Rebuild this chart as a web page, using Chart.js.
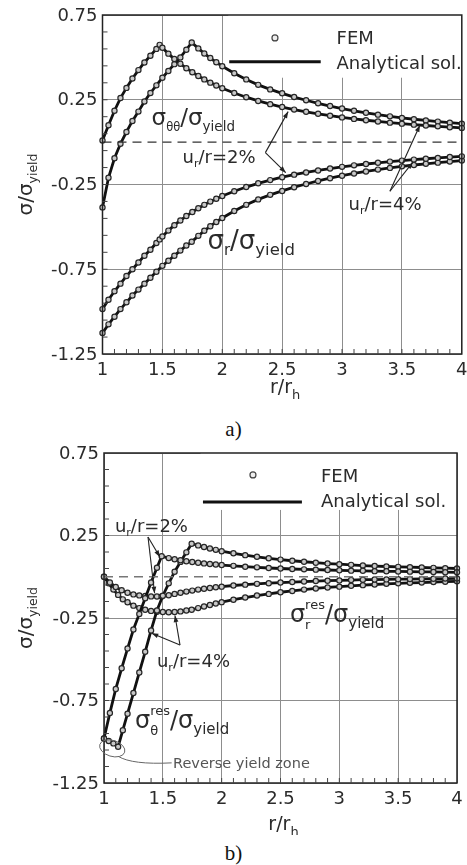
<!DOCTYPE html>
<html>
<head>
<meta charset="utf-8">
<script src="https://cdn.jsdelivr.net/npm/chart.js@4.4.1/dist/chart.umd.min.js"></script>
<style>
  html, body { margin: 0; padding: 0; background: #fff; width: 467px; height: 865px; overflow: hidden; }
  canvas { position: absolute; left: 0; }
  #chartA { top: 0; }
  #chartB { top: 440px; }
  .cap { position: absolute; left: 0; width: 467px; text-align: center;
         font-family: "Liberation Serif", "DejaVu Serif", serif; font-size: 21px; color: #111; }
</style>
</head>
<body>
<canvas id="chartA" width="467" height="400"></canvas>
<div class="cap" style="top:417px">a)</div>
<canvas id="chartB" width="467" height="395"></canvas>
<div class="cap" style="top:841px">b)</div>
<script>
// axis ticks
const xTicks = [1, 1.5, 2, 2.5, 3, 3.5, 4];
const xTickLabels = ['1', '1.5', '2', '2.5', '3', '3.5', '4'];
const yTicks = [-1.25, -0.75, -0.25, 0.25, 0.75];
const yTickLabels = ['-1.25', '-0.75', '-0.25', '0.25', '0.75'];

// dashed zero line
const zeroX = [1, 4];
const zeroY = [0, 0];

// a) stresses under load, u_r/r = 2%
const rLoad2 = [1, 1.05, 1.1, 1.15, 1.2, 1.25, 1.3, 1.35, 1.4, 1.45, 1.477, 1.5, 1.55, 1.6, 1.65, 1.7, 1.75, 1.8, 1.85, 1.9, 1.95, 2,
  2.1, 2.2, 2.3, 2.4, 2.5, 2.6, 2.7, 2.8, 2.9, 3, 3.1, 3.2, 3.3, 3.4, 3.5, 3.6, 3.7, 3.8, 3.9, 4];
const hoopLoad2 = [0.01, 0.1, 0.185, 0.26, 0.32, 0.375, 0.425, 0.47, 0.51, 0.55, 0.574, 0.557, 0.522, 0.49, 0.462, 0.436, 0.412, 0.39, 0.37, 0.351, 0.334, 0.318,
  0.29, 0.265, 0.243, 0.224, 0.207, 0.192, 0.179, 0.167, 0.156, 0.146, 0.137, 0.129, 0.122, 0.115, 0.109, 0.103, 0.098, 0.093, 0.088, 0.084];
const radLoad2 = [-0.985, -0.93, -0.88, -0.835, -0.79, -0.75, -0.71, -0.67, -0.635, -0.595, -0.574, -0.557, -0.522, -0.49, -0.462, -0.436, -0.412, -0.39, -0.37, -0.351, -0.334, -0.318,
  -0.29, -0.265, -0.243, -0.224, -0.207, -0.192, -0.179, -0.167, -0.156, -0.146, -0.137, -0.129, -0.122, -0.115, -0.109, -0.103, -0.098, -0.093, -0.088, -0.084];

// a) stresses under load, u_r/r = 4%
const rLoad4 = [1, 1.05, 1.1, 1.15, 1.2, 1.25, 1.3, 1.35, 1.4, 1.45, 1.5, 1.55, 1.6, 1.65, 1.7, 1.745, 1.8, 1.85, 1.9, 1.95, 2,
  2.1, 2.2, 2.3, 2.4, 2.5, 2.6, 2.7, 2.8, 2.9, 3, 3.1, 3.2, 3.3, 3.4, 3.5, 3.6, 3.7, 3.8, 3.9, 4];
const hoopLoad4 = [-0.385, -0.21, -0.095, -0.01, 0.06, 0.125, 0.18, 0.24, 0.29, 0.335, 0.38, 0.42, 0.46, 0.5, 0.545, 0.588, 0.553, 0.523, 0.496, 0.471, 0.448,
  0.406, 0.37, 0.338, 0.311, 0.288, 0.266, 0.247, 0.229, 0.213, 0.198, 0.185, 0.173, 0.162, 0.152, 0.143, 0.135, 0.128, 0.121, 0.115, 0.109];
const radLoad4 = [-1.126, -1.075, -1.03, -0.985, -0.945, -0.905, -0.87, -0.835, -0.8, -0.765, -0.73, -0.7, -0.67, -0.64, -0.61, -0.588, -0.553, -0.523, -0.496, -0.471, -0.448,
  -0.406, -0.37, -0.338, -0.311, -0.288, -0.266, -0.247, -0.229, -0.213, -0.198, -0.185, -0.173, -0.162, -0.152, -0.143, -0.135, -0.128, -0.121, -0.115, -0.109];

// b) residual stresses, u_r/r = 2%
const rRes2 = [1, 1.05, 1.1, 1.15, 1.2, 1.25, 1.3, 1.35, 1.4, 1.45, 1.49, 1.55, 1.6, 1.65, 1.7, 1.75, 1.8, 1.85, 1.9, 1.95, 2,
  2.1, 2.2, 2.3, 2.4, 2.5, 2.6, 2.7, 2.8, 2.9, 3, 3.1, 3.2, 3.3, 3.4, 3.5, 3.6, 3.7, 3.8, 3.9, 4];
const hoopRes2 = [-0.98, -0.825, -0.68, -0.555, -0.435, -0.32, -0.225, -0.13, -0.035, 0.055, 0.125, 0.113, 0.106, 0.1, 0.094, 0.089, 0.085, 0.081, 0.077, 0.074, 0.071,
  0.066, 0.061, 0.057, 0.053, 0.05, 0.047, 0.045, 0.043, 0.041, 0.039, 0.037, 0.036, 0.034, 0.033, 0.032, 0.031, 0.03, 0.029, 0.028, 0.027];
const radRes2 = [0, -0.035, -0.062, -0.082, -0.097, -0.107, -0.113, -0.117, -0.119, -0.12, -0.12, -0.112, -0.104, -0.097, -0.09, -0.084, -0.078, -0.073, -0.068, -0.064, -0.06,
  -0.053, -0.048, -0.043, -0.039, -0.035, -0.032, -0.029, -0.026, -0.024, -0.022, -0.02, -0.018, -0.017, -0.016, -0.015, -0.014, -0.013, -0.012, -0.011, -0.01];

// b) residual stresses, u_r/r = 4%
const rRes4 = [1, 1.04, 1.08, 1.12, 1.16, 1.2, 1.25, 1.3, 1.35, 1.4, 1.45, 1.5, 1.55, 1.6, 1.65, 1.7, 1.745, 1.8, 1.85, 1.9, 1.95, 2,
  2.1, 2.2, 2.3, 2.4, 2.5, 2.6, 2.7, 2.8, 2.9, 3, 3.1, 3.2, 3.3, 3.4, 3.5, 3.6, 3.7, 3.8, 3.9, 4];
const hoopRes4 = [-0.98, -0.995, -1.01, -1.03, -0.93, -0.83, -0.705, -0.58, -0.455, -0.325, -0.205, -0.115, -0.04, 0.03, 0.09, 0.148, 0.2, 0.19, 0.18, 0.171, 0.163, 0.155,
  0.142, 0.131, 0.121, 0.112, 0.104, 0.097, 0.091, 0.085, 0.08, 0.076, 0.072, 0.068, 0.065, 0.062, 0.06, 0.058, 0.056, 0.054, 0.052, 0.05];
const radRes4 = [0, -0.04, -0.078, -0.11, -0.137, -0.155, -0.175, -0.19, -0.2, -0.207, -0.212, -0.214, -0.215, -0.214, -0.21, -0.205, -0.2, -0.19, -0.18, -0.171, -0.162, -0.154,
  -0.139, -0.126, -0.114, -0.104, -0.094, -0.086, -0.078, -0.071, -0.065, -0.06, -0.055, -0.051, -0.047, -0.043, -0.04, -0.037, -0.035, -0.032, -0.03, -0.028];

const FONT = '"DejaVu Sans", Arial, sans-serif';
const INK = '#2b2b2b';

function pts(rs, vs) {
  return rs.map((r, i) => ({ x: r, y: vs[i] }));
}

// FEM circles sitting on the analytical line
function femLine(rs, vs) {
  return {
    data: pts(rs, vs),
    showLine: true,
    borderColor: '#111',
    borderWidth: 2.8,
    pointRadius: 2.6,
    pointBorderWidth: 1.2,
    pointBorderColor: '#262626',
    pointBackgroundColor: '#c8c8c8',
    clip: 4
  };
}

function zeroLine(color) {
  return {
    data: pts(zeroX, zeroY),
    showLine: true,
    borderColor: color,
    borderWidth: 1.3,
    borderDash: [9, 6],
    pointRadius: 0
  };
}

// text made of pieces with their own size and vertical shift
function rich(ctx, x, y, parts, align) {
  const widths = parts.map(p => { ctx.font = p.s + 'px ' + FONT; return ctx.measureText(p.t).width; });
  let w = 0;
  parts.forEach((p, i) => { if (p.adv !== false) w += widths[i]; });
  let cx = align === 'center' ? x - w / 2 : x;
  parts.forEach((p, i) => {
    ctx.font = p.s + 'px ' + FONT;
    ctx.fillText(p.t, cx, y + (p.dy || 0));
    if (p.adv !== false) cx += widths[i];
  });
}

function arrow(ctx, x1, y1, x2, y2) {
  ctx.beginPath();
  ctx.moveTo(x1, y1);
  ctx.lineTo(x2, y2);
  ctx.stroke();
  const a = Math.atan2(y2 - y1, x2 - x1);
  ctx.beginPath();
  ctx.moveTo(x2, y2);
  ctx.lineTo(x2 - 7 * Math.cos(a - 0.35), y2 - 7 * Math.sin(a - 0.35));
  ctx.lineTo(x2 - 7 * Math.cos(a + 0.35), y2 - 7 * Math.sin(a + 0.35));
  ctx.closePath();
  ctx.fill();
}

const sigmaYield = (s, ss) => [{ t: 'σ', s: s }, { t: 'yield', s: ss, dy: 6 }];
const urText = pct => [{ t: 'u', s: 18 }, { t: 'r', s: 11, dy: 4 }, { t: '/r=' + pct, s: 18 }];

function figPlugin(spec) {
  return {
    id: 'fig',
    beforeDatasetsDraw(chart) {
      const { ctx, scales: { x, y } } = chart;
      const b = spec.legendBox;
      ctx.save();
      ctx.fillStyle = '#fff';
      const x1 = x.getPixelForValue(b[0]), x2 = x.getPixelForValue(b[1]);
      const y1 = y.getPixelForValue(b[2]), y2 = y.getPixelForValue(b[3]);
      ctx.fillRect(x1, y1, x2 - x1, y2 - y1);
      ctx.restore();
    },
    afterDraw(chart) {
      const { ctx, chartArea: ca, scales: { x, y } } = chart;
      ctx.save();
      // frame
      ctx.strokeStyle = '#222';
      ctx.lineWidth = 1.5;
      ctx.strokeRect(ca.left, ca.top, ca.right - ca.left, ca.bottom - ca.top);

      // minor ticks
      ctx.lineWidth = 1;
      ctx.strokeStyle = '#444';
      for (let v = 1.1; v < 4; v += 0.1) {
        const px = x.getPixelForValue(v);
        ctx.beginPath(); ctx.moveTo(px, ca.bottom); ctx.lineTo(px, ca.bottom - 5); ctx.stroke();
      }
      for (let v = -1.15; v < 0.75; v += 0.1) {
        const py = y.getPixelForValue(v);
        ctx.beginPath(); ctx.moveTo(ca.left, py); ctx.lineTo(ca.left + 5, py); ctx.stroke();
      }

      // tick labels
      ctx.fillStyle = INK;
      ctx.font = '18px ' + FONT;
      ctx.textBaseline = 'middle';
      ctx.textAlign = 'right';
      yTicks.forEach((v, i) => ctx.fillText(yTickLabels[i], ca.left - 5, y.getPixelForValue(v) + 1));
      ctx.textAlign = 'center';
      xTicks.forEach((v, i) => ctx.fillText(xTickLabels[i], x.getPixelForValue(v), ca.bottom + 16));

      // axis titles
      ctx.textBaseline = 'alphabetic';
      ctx.textAlign = 'left';
      rich(ctx, (ca.left + ca.right) / 2 + 3, ca.bottom + spec.xTitleGap,
        [{ t: 'r/r', s: 19 }, { t: 'h', s: 13, dy: 6 }], 'center');
      ctx.save();
      ctx.translate(32, (ca.top + ca.bottom) / 2);
      ctx.rotate(-Math.PI / 2);
      rich(ctx, 0, 0, [{ t: 'σ/σ', s: 20 }, { t: 'yield', s: 12.5, dy: 5 }], 'center');
      ctx.restore();

      // curve labels
      spec.texts.forEach(tx => {
        ctx.fillStyle = tx.color || INK;
        rich(ctx, x.getPixelForValue(tx.x), y.getPixelForValue(tx.y), tx.parts, 'left');
      });

      // pointers
      ctx.strokeStyle = '#222';
      ctx.fillStyle = '#222';
      ctx.lineWidth = 1.1;
      spec.arrows.forEach(a => {
        arrow(ctx, x.getPixelForValue(a[0]), y.getPixelForValue(a[1]), x.getPixelForValue(a[2]), y.getPixelForValue(a[3]));
      });
      if (spec.extra) spec.extra(ctx, x, y);

      // legend
      const lg = spec.legend;
      ctx.strokeStyle = '#444';
      ctx.fillStyle = '#eee';
      ctx.lineWidth = 1.2;
      ctx.beginPath();
      ctx.arc(x.getPixelForValue(lg.dot[0]), y.getPixelForValue(lg.dot[1]), 3, 0, Math.PI * 2);
      ctx.fill(); ctx.stroke();
      ctx.strokeStyle = '#111';
      ctx.lineWidth = 3;
      ctx.beginPath();
      ctx.moveTo(x.getPixelForValue(lg.line[0]), y.getPixelForValue(lg.line[2]));
      ctx.lineTo(x.getPixelForValue(lg.line[1]), y.getPixelForValue(lg.line[2]));
      ctx.stroke();
      ctx.fillStyle = INK;
      ctx.font = '18px ' + FONT;
      ctx.fillText('FEM', x.getPixelForValue(lg.textX), y.getPixelForValue(lg.femY));
      ctx.fillText('Analytical sol.', x.getPixelForValue(lg.textX), y.getPixelForValue(lg.anaY));
      ctx.restore();
    }
  };
}

function makeChart(id, datasets, spec) {
  const grid = { color: '#8d8d8d', lineWidth: 1, drawTicks: false };
  return new Chart(document.getElementById(id), {
    type: 'scatter',
    data: { datasets: datasets },
    options: {
      responsive: false,
      animation: false,
      devicePixelRatio: 1,
      layout: { padding: { left: 0, right: spec.padRight, top: spec.padTop, bottom: 0 } },
      plugins: { legend: { display: false }, tooltip: { enabled: false } },
      scales: {
        x: {
          type: 'linear', min: 1, max: 4,
          ticks: { stepSize: 0.5, display: false },
          grid: grid, border: { display: false },
          afterFit(s) { s.height = spec.xAxisH; }
        },
        y: {
          type: 'linear', min: -1.25, max: 0.75,
          ticks: { stepSize: 0.5, display: false },
          grid: grid, border: { display: false },
          afterFit(s) { s.width = spec.yAxisW; }
        }
      }
    },
    plugins: [figPlugin(spec)]
  });
}

// a) loaded state
makeChart('chartA', [
  zeroLine('#333'),
  femLine(rLoad2, hoopLoad2),
  femLine(rLoad4, hoopLoad4),
  femLine(rLoad2, radLoad2),
  femLine(rLoad4, radLoad4)
], {
  padTop: 15, padRight: 3, yAxisW: 102.5, xAxisH: 46, xTitleGap: 39,
  legendBox: [2.05, 4, 0.75, 0.38],
  legend: { dot: [2.44, 0.615], line: [2.058, 2.822, 0.474], textX: 2.954, femY: 0.579, anaY: 0.432 },
  texts: [
    { x: 1.41, y: 0.103, parts: [{ t: 'σ', s: 23 }, { t: 'θθ', s: 11.5, dy: 6 }, { t: '/', s: 23 }].concat(sigmaYield(23, 13.5)) },
    { x: 1.876, y: -0.632, parts: [{ t: 'σ', s: 26 }, { t: 'r', s: 15, dy: 6 }, { t: '/', s: 26 }].concat(sigmaYield(26, 16.5)) },
    { x: 1.668, y: -0.126, parts: urText('2%') },
    { x: 3.054, y: -0.403, parts: urText('4%') }
  ],
  arrows: [
    [2.36, -0.062, 2.55, 0.18],
    [2.36, -0.062, 2.53, -0.18],
    [3.40, -0.29, 3.65, 0.1],
    [3.40, -0.29, 3.59, -0.12]
  ]
});

// b) residual state after unloading
makeChart('chartB', [
  zeroLine('#777'),
  femLine(rRes2, hoopRes2),
  femLine(rRes4, hoopRes4),
  femLine(rRes2, radRes2),
  femLine(rRes4, radRes4)
], {
  padTop: 13, padRight: 10, yAxisW: 104, xAxisH: 52, xTitleGap: 47,
  legendBox: [1.82, 4, 0.75, 0.405],
  legend: { dot: [2.266, 0.617], line: [1.841, 2.682, 0.453], textX: 2.844, femY: 0.574, anaY: 0.423 },
  texts: [
    { x: 2.58, y: -0.274, parts: [{ t: 'σ', s: 24 }, { t: 'r', s: 13, dy: 7, adv: false }, { t: 'res', s: 13, dy: -13 }, { t: '/', s: 24 }].concat(sigmaYield(24, 15)) },
    { x: 1.263, y: -0.914, parts: [{ t: 'σ', s: 24 }, { t: 'θ', s: 13, dy: 7, adv: false }, { t: 'res', s: 13, dy: -13 }, { t: '/', s: 24 }].concat(sigmaYield(24, 15)) },
    { x: 1.093, y: 0.271, parts: urText('2%') },
    { x: 1.45, y: -0.547, parts: urText('4%') },
    { x: 1.586, y: -1.158, color: '#555', parts: [{ t: 'Reverse yield zone', s: 14.5 }] }
  ],
  arrows: [
    [1.374, 0.241, 1.475, 0.12],
    [1.374, 0.241, 1.43, -0.1],
    [1.646, -0.414, 1.405, -0.343],
    [1.646, -0.414, 1.603, -0.235]
  ],
  extra(ctx, x, y) {
    // reverse yield zone marker
    const cx = x.getPixelForValue(1.07), cy = y.getPixelForValue(-1.04);
    ctx.strokeStyle = '#666';
    ctx.lineWidth = 1;
    ctx.beginPath();
    ctx.ellipse(cx, cy, 13, 8, 0.3, 0, Math.PI * 2);
    ctx.stroke();
    const tx = x.getPixelForValue(1.575), ty = y.getPixelForValue(-1.128);
    ctx.beginPath();
    ctx.moveTo(tx, ty);
    ctx.quadraticCurveTo(cx + 20, ty + 2, cx + 6, cy + 8);
    ctx.stroke();
  }
});
</script>
</body>
</html>
